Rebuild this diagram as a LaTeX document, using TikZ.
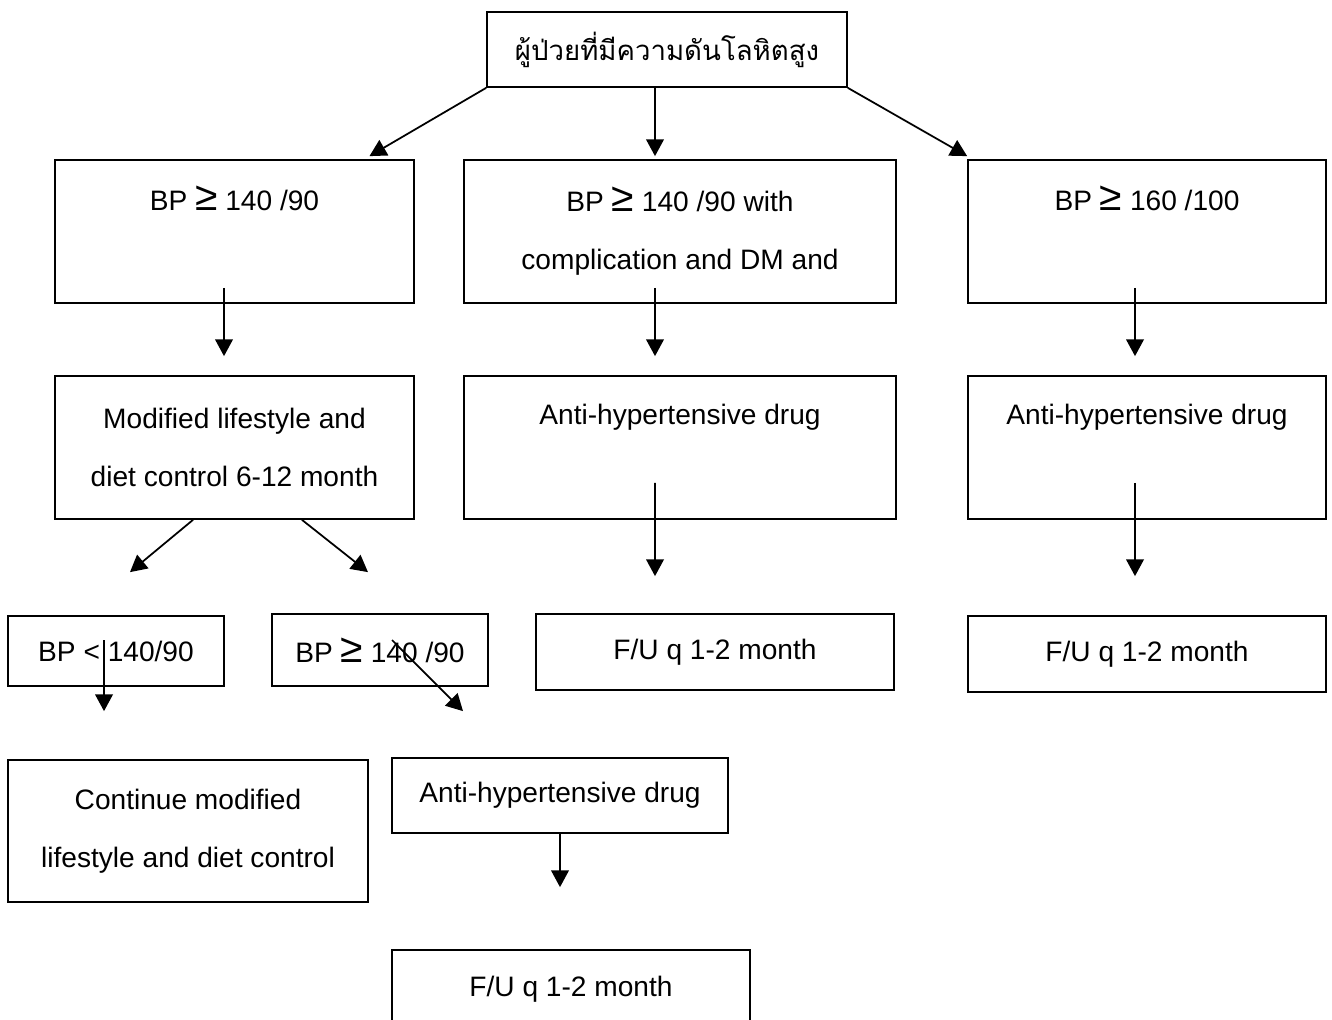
\documentclass[tikz,border=0pt]{standalone}
\usepackage{fontspec}
\setmainfont{Liberation Sans}
\newfontfamily\thaifont[Script=Thai]{Loma}
\usepackage{graphicx}
\usetikzlibrary{arrows.meta,positioning}
\newcommand{\bpge}{\scalebox{1.45}{≥}}

\begin{document}
\begin{tikzpicture}[
    x=0.02cm, y=-0.02cm,
    box/.style={rectangle, draw, line width=1pt, align=center, font=\fontsize{16pt}{33pt}\selectfont},
    tall/.style={box, minimum height=2.86cm},
    flow/.style={-{Triangle[width=10pt,length=9.5pt]}, line width=1pt}
]
    \useasboundingbox (0,0) rectangle (1332,1020);

    % Boîtes
    \node[box, minimum width=7.2cm, minimum height=1.5cm, font=\thaifont\fontsize{15.7pt}{33pt}\selectfont] (top) at (667,49.5) {ผู้ป่วยที่มีความดันโลหิตสูง};

    \node[tall, minimum width=7.18cm] (l1) at (234.5,231.5) {BP \bpge{} 140 /90\\[5pt] \mbox{}};
    \node[tall, minimum width=8.64cm] (m1) at (680,231.5) {BP \bpge{} 140 /90 with\\complication and DM and};
    \node[tall, minimum width=7.16cm] (r1) at (1147,231.5) {BP \bpge{} 160 /100\\[5pt] \mbox{}};

    \node[tall, minimum width=7.18cm] (l2) at (234.5,447.5) {Modified lifestyle and\\diet control 6-12 month};
    \node[tall, minimum width=8.64cm] (m2) at (680,447.5) {Anti-hypertensive drug\\[5pt] \mbox{}};
    \node[tall, minimum width=7.16cm] (r2) at (1147,447.5) {Anti-hypertensive drug\\[5pt] \mbox{}};

    \node[box, minimum width=4.32cm, minimum height=1.4cm] (lo) at (116,651) {BP < 140/90};
    \node[box, minimum width=4.32cm, minimum height=1.44cm] (hi) at (380,650) {BP \bpge{} 140 /90};
    \node[box, minimum width=7.16cm, minimum height=1.52cm] (m3) at (715,652) {F/U q 1-2 month};
    \node[box, minimum width=7.16cm, minimum height=1.52cm] (r3) at (1147,654) {F/U q 1-2 month};

    \node[box, minimum width=7.2cm, minimum height=2.84cm] (cont) at (188,831) {Continue modified\\lifestyle and diet control};
    \node[box, minimum width=6.72cm, minimum height=1.5cm] (drug) at (560,795.5) {Anti-hypertensive drug};
    \node[box, minimum width=7.16cm, minimum height=1.56cm] (fu) at (571,989) {F/U q 1-2 month};

    % Flèches
    \draw[flow] (top.south west) -- ([xshift=2.7cm, yshift=0.06cm]l1.north);
    \draw[flow] ([xshift=-0.24cm]top.south) -- ([xshift=-0.5cm, yshift=0.06cm]m1.north);
    \draw[flow] (top.south east) -- ([yshift=0.06cm]r1.north west);

    \draw[flow] ([xshift=-0.21cm, yshift=0.32cm]l1.south) -- ([xshift=-0.21cm, yshift=0.38cm]l2.north);
    \draw[flow] ([xshift=-0.5cm, yshift=0.32cm]m1.south) -- ([xshift=-0.5cm, yshift=0.38cm]m2.north);
    \draw[flow] ([xshift=-0.24cm, yshift=0.32cm]r1.south) -- ([xshift=-0.24cm, yshift=0.38cm]r2.north);

    \draw[flow] ([xshift=-0.83cm]l2.south) -- ([xshift=0.28cm, yshift=0.86cm]lo.north);
    \draw[flow] ([xshift=1.35cm]l2.south) -- ([xshift=-0.24cm, yshift=0.82cm]hi.north);
    \draw[flow] ([xshift=-0.5cm, yshift=0.74cm]m2.south) -- ([xshift=-1.2cm, yshift=0.74cm]m3.north);
    \draw[flow] ([xshift=-0.24cm, yshift=0.74cm]r2.south) -- ([xshift=-0.24cm, yshift=0.78cm]r3.north);

    \draw[flow] ([xshift=-0.24cm, yshift=0.22cm]lo.center) -- ([xshift=-1.68cm, yshift=0.96cm]cont.north);
    \draw[flow] ([xshift=0.24cm, yshift=0.2cm]hi.center) -- ([xshift=-1.94cm, yshift=0.92cm]drug.north);
    \draw[flow] (drug.south) -- ([xshift=-0.22cm, yshift=1.24cm]fu.north);

\end{tikzpicture}
\end{document}
